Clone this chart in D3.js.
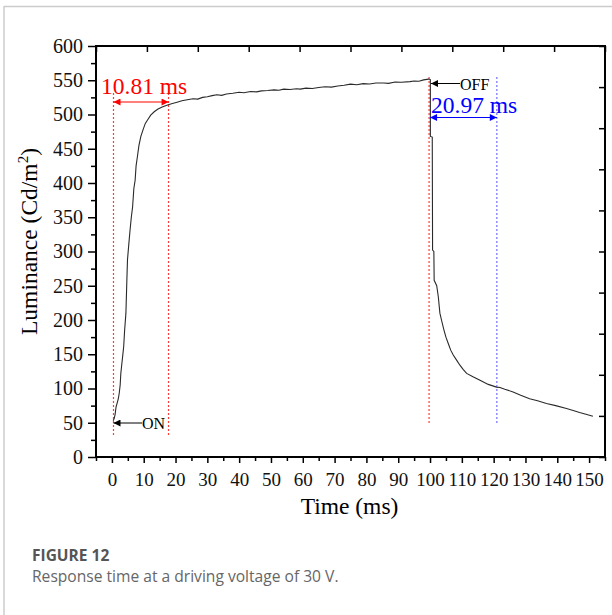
<!DOCTYPE html>
<html>
<head>
    <meta charset="UTF-8" />
    <style>
        body {
            margin: 0;
            padding: 0;
            background: #fff;
        }

        svg text {
            font-family: "Liberation Serif", "Times New Roman", serif;
        }

        .axis path,
        .axis line {
            stroke: #000;
        }

        .axis text {
            font-family: "Liberation Serif", serif;
            font-size: 20px;
            fill: #111;
        }

        .xaxis text {
            font-size: 19px;
        }

        svg text.caption {
            font-family: "Open Sans", sans-serif;
        }
    </style>
    <title>Response time</title>
</head>

<body>
<svg width="612" height="615"></svg>
<script src="https://d3js.org/d3.v7.min.js"></script>

<script>
    const time = [0.4, 0.7, 1.0, 1.3, 1.6, 2.0, 2.3, 2.6, 2.8, 3.1, 3.4, 3.7, 4.0, 4.4, 4.7, 4.9, 5.3, 5.7, 6.1, 6.5,
        6.9, 7.3, 7.6, 8.0, 8.5, 9.1, 9.8, 10.5, 11.2, 12.2, 13.3, 14.5, 15.8, 17.5, 19.0, 20.5, 22.0, 23.7, 25.5, 27.0,
        28.5, 30.0, 31.5, 33.0, 34.5, 36.0, 38.0, 40.0, 41.5, 43.6, 45.5, 47.0, 49.0, 51.0, 52.5, 54.0, 56.0, 58.0, 59.2, 61.0,
        63.0, 65.0, 67.0, 69.0, 71.0, 73.0, 75.0, 77.0, 79.0, 81.0, 83.0, 85.4, 87.0, 89.0, 91.0, 93.7, 95.0, 96.5, 98.0, 99.5,
        100.1, 100.1, 100.7, 100.8, 101.2, 101.3, 102.1, 102.6, 103.1, 103.6, 104.4, 105.0, 105.7, 106.5, 107.3, 108.4, 109.4, 110.4, 111.5, 113.5,
        115.7, 118.3, 120.9, 122.0, 123.5, 126.1, 128.5, 131.3, 133.8, 136.6, 139.5, 142.9, 145.0, 147.0, 149.0, 151.2];
    const luminance = [53, 56, 62, 73, 78, 85, 93, 105, 122, 135, 148, 161, 185, 210, 258, 288, 310, 331, 350, 365,
        392, 404, 425, 438, 455, 468, 478, 487, 492, 499, 504, 508, 511, 514, 516, 518, 520, 521.5, 523, 522.5,
        525, 526, 527.5, 528.8, 528, 530, 531, 532.5, 531.8, 533.6, 533, 534.5, 535, 536, 535.5, 537, 536.4, 537.5, 537, 538.5,
        538, 539.5, 540.5, 540, 541.5, 542.8, 544.4, 543.5, 545, 544.6, 546, 546, 545.5, 547.5, 547, 548, 549, 548.5, 550.5, 551.7,
        551, 468, 467, 302, 300, 258, 250, 234, 210, 200, 185, 175, 166, 156, 149, 141, 134, 128, 122, 117,
        112, 106, 102, 101.5, 99, 95, 90, 85, 82, 78, 75, 70.7, 68, 65, 62.5, 59.5];

    const xTicks = d3.range(0, 151, 10);
    const yTicks = d3.range(0, 601, 50);

    // response-time markers: [start, end] of rise and fall
    const riseMarks = [0.5, 17.8];
    const fallMarks = [99.7, 121.0];
    const riseLabel = "10.81 ms";
    const fallLabel = "20.97 ms";

    const svg = d3.select("svg");

    const plotLeft = 96, plotRight = 605, plotTop = 46, plotBottom = 457;

    const x = d3.scaleLinear().domain([-5, 155]).range([plotLeft, plotRight]);
    const y = d3.scaleLinear().domain([0, 600]).range([plotBottom, plotTop]);

    // card border
    svg.append("line").attr("x1", 4).attr("x2", 612).attr("y1", 6.5).attr("y2", 6.5)
        .attr("stroke", "#ccc").attr("stroke-width", 1.5);
    svg.append("line").attr("x1", 4).attr("x2", 4).attr("y1", 6).attr("y2", 615)
        .attr("stroke", "#ccc").attr("stroke-width", 1.5);

    // minor ticks
    svg.append("g").attr("class", "axis").attr("transform", `translate(0,${plotBottom})`)
        .call(d3.axisBottom(x).tickValues(d3.range(-5, 156, 10)).tickSize(4).tickFormat(""))
        .call(g => g.select(".domain").remove())
        .selectAll("line").attr("stroke-width", 1.5);
    svg.append("g").attr("class", "axis").attr("transform", `translate(${plotLeft},0)`)
        .call(d3.axisLeft(y).tickValues(d3.range(25, 600, 50)).tickSize(5).tickFormat(""))
        .call(g => g.select(".domain").remove())
        .selectAll("line").attr("stroke-width", 1.5);

    // major axes
    const xAxis = svg.append("g").attr("class", "axis xaxis").attr("transform", `translate(0,${plotBottom})`)
        .call(d3.axisBottom(x).tickValues(xTicks).tickSize(6).tickPadding(10).tickSizeOuter(0));
    xAxis.select(".domain").remove();
    xAxis.selectAll("line").attr("stroke-width", 1.5);

    const yAxis = svg.append("g").attr("class", "axis").attr("transform", `translate(${plotLeft},0)`)
        .call(d3.axisLeft(y).tickValues(yTicks).tickSize(8).tickPadding(5).tickSizeOuter(0));
    yAxis.select(".domain").remove();
    yAxis.selectAll("line").attr("stroke-width", 1.5);

    // top and right: plain inward ticks
    const frameX = d3.scaleLinear().domain([0, 10]).range([plotLeft, plotRight]);
    const frameY = d3.scaleLinear().domain([0, 10]).range([plotBottom, plotTop]);
    svg.append("g").attr("class", "axis").attr("transform", `translate(0,${plotTop})`)
        .call(d3.axisTop(frameX).ticks(10).tickSize(-6).tickFormat(""))
        .call(g => g.select(".domain").remove())
        .selectAll("line").attr("stroke-width", 1.5);
    svg.append("g").attr("class", "axis").attr("transform", `translate(${plotRight},0)`)
        .call(d3.axisRight(frameY).ticks(10).tickSize(-6).tickFormat(""))
        .call(g => g.select(".domain").remove())
        .selectAll("line").attr("stroke-width", 1.5);

    svg.append("rect")
        .attr("x", plotLeft).attr("y", plotTop)
        .attr("width", plotRight - plotLeft).attr("height", plotBottom - plotTop)
        .attr("fill", "none").attr("stroke", "#000").attr("stroke-width", 2);

    // axis titles
    svg.append("text")
        .attr("x", (plotLeft + plotRight) / 2 - 1).attr("y", 514)
        .attr("text-anchor", "middle")
        .attr("font-size", 23.5)
        .text("Time (ms)");

    const yTitle = svg.append("text")
        .attr("transform", `translate(37,${(plotTop + plotBottom) / 2 - 10}) rotate(-90)`)
        .attr("text-anchor", "middle")
        .attr("font-size", 23.5);
    yTitle.append("tspan").text("Luminance (Cd/m");
    yTitle.append("tspan").attr("font-size", 15).attr("dy", -9).text("2");
    yTitle.append("tspan").attr("dy", 9).text(")");

    // arrow heads
    const defs = svg.append("defs");
    function marker(id, color) {
        defs.append("marker")
            .attr("id", id)
            .attr("viewBox", "0 0 10 10")
            .attr("refX", 10).attr("refY", 5)
            .attr("markerWidth", 10).attr("markerHeight", 7)
            .attr("markerUnits", "userSpaceOnUse")
            .attr("orient", "auto-start-reverse")
            .append("path").attr("d", "M0,0 L10,5 L0,10 Z").attr("fill", color);
    }
    marker("redHead", "#ff0000");
    marker("blueHead", "#0000ff");
    marker("blackHead", "#000");

    // dotted guide lines
    const guides = [
        { t: riseMarks[0], y0: 93, y1: 435, c: "#ff3b3b" },
        { t: riseMarks[1], y0: 93, y1: 435, c: "#ff3b3b" },
        { t: fallMarks[0], y0: 77, y1: 424, c: "#ff3b3b" },
        { t: fallMarks[1], y0: 77, y1: 424, c: "#7070ff" }
    ];
    svg.selectAll(".guide").data(guides).enter().append("line")
        .attr("class", "guide")
        .attr("x1", d => x(d.t)).attr("x2", d => x(d.t))
        .attr("y1", d => d.y0).attr("y2", d => d.y1)
        .attr("stroke", d => d.c).attr("stroke-width", 1.2)
        .attr("stroke-dasharray", "2,2");

    // curve
    const points = time.map((t, i) => [t, luminance[i]]);
    svg.append("path")
        .datum(points)
        .attr("fill", "none")
        .attr("stroke", "#2a2a2a")
        .attr("stroke-width", 1.1)
        .attr("d", d3.line().x(d => x(d[0])).y(d => y(d[1])));

    // rise annotation
    svg.append("line")
        .attr("x1", x(riseMarks[0])).attr("x2", x(riseMarks[1]))
        .attr("y1", 102).attr("y2", 102)
        .attr("stroke", "#ff0000").attr("stroke-width", 1.2)
        .attr("marker-start", "url(#redHead)").attr("marker-end", "url(#redHead)");
    svg.append("text")
        .attr("x", 101).attr("y", 94)
        .attr("font-size", 23.5).attr("fill", "#ff0000")
        .text(riseLabel);

    // fall annotation
    svg.append("line")
        .attr("x1", x(fallMarks[0]) + 1).attr("x2", x(fallMarks[1]))
        .attr("y1", 117.5).attr("y2", 117.5)
        .attr("stroke", "#0000ff").attr("stroke-width", 1.2)
        .attr("marker-start", "url(#blueHead)").attr("marker-end", "url(#blueHead)");
    svg.append("text")
        .attr("x", 431).attr("y", 113)
        .attr("font-size", 23.5).attr("fill", "#0000ff")
        .text(fallLabel);

    // ON / OFF pointers
    svg.append("line")
        .attr("x1", 142).attr("x2", x(0.5))
        .attr("y1", 423).attr("y2", 423)
        .attr("stroke", "#000").attr("stroke-width", 1)
        .attr("marker-end", "url(#blackHead)");
    svg.append("text").attr("x", 142).attr("y", 428.5).attr("font-size", 16).text("ON");

    svg.append("line")
        .attr("x1", 460).attr("x2", x(100.3))
        .attr("y1", 83.5).attr("y2", 83.5)
        .attr("stroke", "#000").attr("stroke-width", 1)
        .attr("marker-end", "url(#blackHead)");
    svg.append("text").attr("x", 460).attr("y", 90).attr("font-size", 16).text("OFF");

    // caption
    svg.append("text").attr("class", "caption")
        .attr("x", 32).attr("y", 560.5)
        .attr("font-size", 15.5).attr("font-weight", "bold").attr("fill", "#555")
        .text("FIGURE 12");
    svg.append("text").attr("class", "caption")
        .attr("x", 32).attr("y", 582)
        .attr("font-size", 15.6).attr("fill", "#666")
        .text("Response time at a driving voltage of 30 V.");
</script>
</body>
</html>
